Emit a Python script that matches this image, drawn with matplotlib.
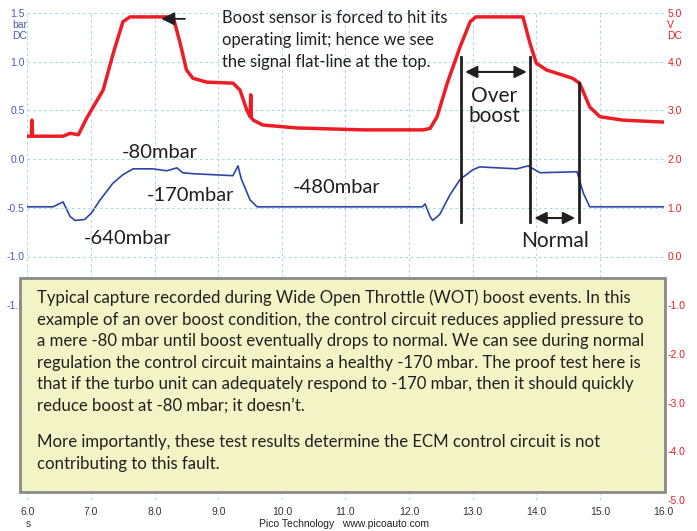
import numpy as np
import matplotlib
matplotlib.use("Agg")
import matplotlib.pyplot as plt

# --- data read off the capture ---------------------------------------------
# red trace: boost sensor signal (V, right axis)
red_t = [6.00, 6.06, 6.07, 6.08, 6.56, 6.67, 6.80, 6.93, 7.19, 7.35, 7.50, 7.61,
         8.29, 8.40, 8.50, 8.60, 8.82, 9.23, 9.34, 9.45, 9.50, 9.51, 9.52, 9.55,
         9.70, 10.23, 11.28, 12.22, 12.33, 12.44, 12.60, 12.80, 12.96, 13.05,
         13.79, 13.90, 14.00, 14.16, 14.57, 14.68, 14.84, 15.00, 15.36, 16.00]
red_v = [2.47, 2.47, 2.80, 2.47, 2.47, 2.53, 2.50, 2.84, 3.42, 4.18, 4.82, 4.92,
         4.92, 4.38, 3.83, 3.66, 3.58, 3.56, 3.42, 3.00, 2.87, 3.32, 2.85, 2.80,
         2.70, 2.64, 2.60, 2.60, 2.63, 2.87, 3.56, 4.30, 4.82, 4.92,
         4.92, 4.38, 3.97, 3.83, 3.66, 3.56, 3.07, 2.87, 2.80, 2.76]

# blue trace: wastegate control pressure (bar, left axis)
blue_t = [6.00, 6.40, 6.56, 6.67, 6.75, 6.90, 7.01, 7.14, 7.34, 7.50, 7.66, 7.97,
          8.19, 8.35, 8.44, 8.60, 9.23, 9.31, 9.36, 9.50, 9.61, 12.21, 12.25,
          12.33, 12.37, 12.48, 12.64, 12.80, 13.00, 13.11, 13.69, 13.87, 14.06,
          14.64, 14.74, 14.84, 16.00]
blue_v = [-0.49, -0.49, -0.44, -0.59, -0.63, -0.62, -0.55, -0.42, -0.25, -0.16,
          -0.10, -0.10, -0.12, -0.09, -0.14, -0.15, -0.17, -0.07, -0.20, -0.42,
          -0.49, -0.49, -0.46, -0.59, -0.63, -0.57, -0.37, -0.21, -0.11, -0.08,
          -0.10, -0.07, -0.14, -0.13, -0.35, -0.49, -0.49]

x_ticks = [6.0, 7.0, 8.0, 9.0, 10.0, 11.0, 12.0, 13.0, 14.0, 15.0, 16.0]
bar_ticks = [1.5, 1.0, 0.5, 0.0, -0.5, -1.0, -1.5]
volt_ticks = [5.0, 4.0, 3.0, 2.0, 1.0, 0.0, -1.0, -2.0, -3.0, -4.0, -5.0]

value_labels = [("-80mbar", 160, 152), ("-170mbar", 190, 195),
                ("-640mbar", 128, 238), ("-480mbar", 337, 188)]
note_lines = ["Boost sensor is forced to hit its",
              "operating limit; hence we see",
              "the signal flat-line at the top."]
box_lines = [
    "Typical capture recorded during Wide Open Throttle (WOT) boost events. In this",
    "example of an over boost condition, the control circuit reduces applied pressure to",
    "a mere -80 mbar until boost eventually drops to normal. We can see during normal",
    "regulation the control circuit maintains a healthy -170 mbar. The proof test here is",
    "that if the turbo unit can adequately respond to -170 mbar, then it should quickly",
    "reduce boost at -80 mbar; it doesn\u2019t.",
    "",
    "More importantly, these test results determine the ECM control circuit is not",
    "contributing to this fault.",
]

RED = "#ee1d25"
BLUE = "#2d46a6"
INK = "#231f20"
GRID = "#a9dbe9"
W, H = 697, 531


def px(x, y):
    # pixel position (from top-left) -> figure fraction
    return x / W, 1 - y / H


fig = plt.figure(figsize=(W / 100, H / 100), dpi=100)
ax = fig.add_axes([27.5 / W, 31 / H, 636 / W, 487 / H])
ax2 = ax.twinx()

ax.set_xlim(6, 16)
ax.set_ylim(-3.5, 1.5)
ax2.set_ylim(-5, 5)

for a in (ax, ax2):
    for s in a.spines.values():
        s.set_visible(False)
    a.tick_params(length=0)

ax.set_xticks(x_ticks)
ax.set_xticklabels([f"{t:.1f}" for t in x_ticks], fontsize=7.5,
                   color="#333333", family="Liberation Sans")
ax.tick_params(axis="x", pad=5)
ax.set_yticks(bar_ticks)
ax.set_yticklabels([f"{t:.1f}" for t in bar_ticks], fontsize=7.5,
                   color="#4a5db0", family="Liberation Sans")
ax.tick_params(axis="y", pad=2)
ax2.set_yticks(volt_ticks)
ax2.set_yticklabels([f"{t:.1f}" for t in volt_ticks], fontsize=7.5,
                    color=RED, family="Liberation Sans")
ax2.tick_params(axis="y", pad=3)

# dashed grid incl. the border lines
for t in x_ticks:
    ax.axvline(t, color=GRID, lw=0.8, ls=(0, (2.5, 2.5)), zorder=0)
for v in volt_ticks:
    ax2.axhline(v, color=GRID, lw=0.8, ls=(0, (2.5, 2.5)), zorder=0)

ax2.plot(red_t, red_v, color=RED, lw=2.5, solid_joinstyle="round")
ax.plot(blue_t, blue_v, color=BLUE, lw=1.2)

# units / footer
fig.text(*px(12, 25), "bar", fontsize=7.5, color="#4a5db0", va="center",
         family="Liberation Sans")
fig.text(*px(12, 36), "DC", fontsize=7.5, color="#4a5db0", va="center",
         family="Liberation Sans")
fig.text(*px(667, 25), "V", fontsize=7.5, color=RED, va="center",
         family="Liberation Sans")
fig.text(*px(667, 36), "DC", fontsize=7.5, color=RED, va="center",
         family="Liberation Sans")
fig.text(*px(28, 524), "s", fontsize=7, color="#333333", ha="center",
         va="center", family="Liberation Sans")
fig.text(*px(344, 524), "Pico Technology   www.picoauto.com", fontsize=7.5,
         color="#222222", ha="center", va="center", family="Liberation Sans")

# annotations
tf = "Lato"
ax2.annotate("", xy=(8.06, 4.88), xytext=(8.52, 4.88),
             arrowprops=dict(arrowstyle="-|>", color=INK, lw=1.3,
                             mutation_scale=20))
for i, line in enumerate(note_lines):
    fig.text(*px(222, 18 + i * 22), line, fontsize=11.9, color=INK,
             va="center", family=tf)

for txt, x, y in value_labels:
    fig.text(*px(x, y), txt, fontsize=14.5, color=INK, ha="center",
             va="center", family=tf)

for t, top in [(12.82, 4.10), (13.90, 4.10), (14.67, 3.56)]:
    ax2.plot([t, t], [top, 0.71], color=INK, lw=2)
ax2.annotate("", xy=(12.88, 3.79), xytext=(13.85, 3.79),
             arrowprops=dict(arrowstyle="<|-|>", color=INK, lw=1.5,
                             mutation_scale=18, shrinkA=0, shrinkB=0))
ax2.annotate("", xy=(13.97, 0.79), xytext=(14.61, 0.79),
             arrowprops=dict(arrowstyle="<|-|>", color=INK, lw=1.5,
                             mutation_scale=18, shrinkA=0, shrinkB=0))
fig.text(*px(494, 96), "Over", fontsize=15, color=INK, ha="center",
         va="center", family=tf)
fig.text(*px(494, 116), "boost", fontsize=15, color=INK, ha="center",
         va="center", family=tf)
fig.text(*px(555, 241), "Normal", fontsize=15, color=INK, ha="center",
         va="center", family=tf)

# explanation box
bx0, by0 = px(20, 492)
bx1, by1 = px(665, 278)
box = plt.Rectangle((bx0, by0), bx1 - bx0, by1 - by0, transform=fig.transFigure,
                    facecolor="#f3f4c6", edgecolor="#8a8a8a", lw=2, zorder=10)
fig.add_artist(box)
for i, line in enumerate(box_lines):
    y = 298 + i * 21.6 if i < 6 else 442 + (i - 7) * 21.6
    if line:
        fig.text(*px(37, y), line, fontsize=12.1, color=INK, va="center",
                 family=tf, zorder=11)

fig.savefig("out.png", dpi=100)
